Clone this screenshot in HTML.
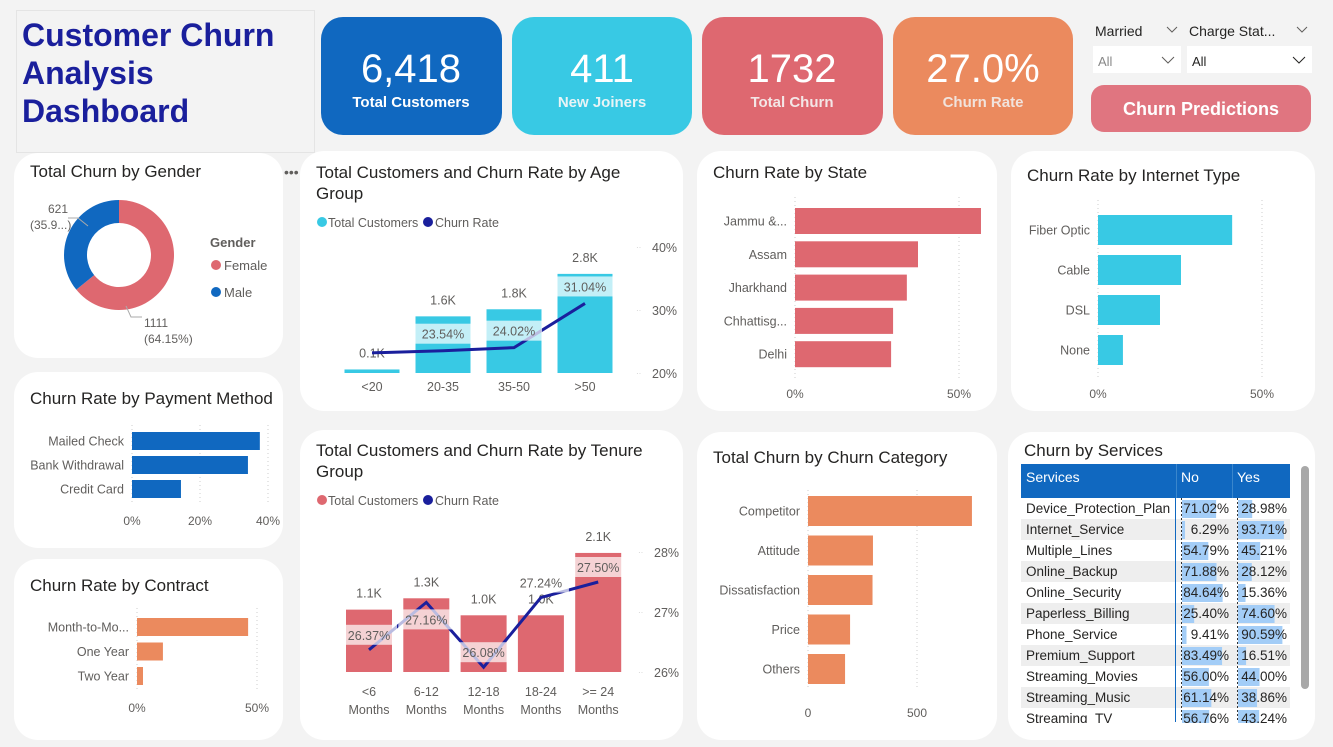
<!DOCTYPE html>
<html><head><meta charset="utf-8"><style>
html,body{margin:0;padding:0;background:#f3f3f3;width:1333px;height:747px;overflow:hidden}
svg{display:block;font-family:"Liberation Sans",sans-serif}
</style></head><body>
<svg id="s" width="1333" height="747" viewBox="0 0 1333 747">
<rect x="0" y="0" width="1333" height="747" fill="#f3f3f3"/>
<g>
<rect x="16.5" y="10.5" width="298" height="142" fill="#f3f3f3" stroke="#e4e4e4"/>
<text x="22" y="46" font-size="32" font-weight="bold" fill="#1a1f9c">Customer Churn</text>
<text x="22" y="84" font-size="32" font-weight="bold" fill="#1a1f9c">Analysis</text>
<text x="22" y="122" font-size="32" font-weight="bold" fill="#1a1f9c">Dashboard</text>
</g>
<g><rect x="321" y="17" width="181" height="118" rx="22" fill="#1068c0"/><text x="411" y="82" font-size="40" fill="#fff" text-anchor="middle">6,418</text><text x="411" y="107" font-size="15" font-weight="bold" fill="#fff" text-anchor="middle">Total Customers</text></g>
<g><rect x="512" y="17" width="180" height="118" rx="22" fill="#38c9e4"/><text x="602" y="82" font-size="40" fill="#fff" text-anchor="middle">411</text><text x="602" y="107" font-size="15" font-weight="bold" fill="#e8f4f6" text-anchor="middle">New Joiners</text></g>
<g><rect x="702" y="17" width="181" height="118" rx="22" fill="#de6870"/><text x="792" y="82" font-size="40" fill="#fff" text-anchor="middle">1732</text><text x="792" y="107" font-size="15" font-weight="bold" fill="#f3e6e6" text-anchor="middle">Total Churn</text></g>
<g><rect x="893" y="17" width="180" height="118" rx="22" fill="#eb8a5e"/><text x="983" y="82" font-size="40" fill="#fff" text-anchor="middle">27.0%</text><text x="983" y="107" font-size="15" font-weight="bold" fill="#f1e3dc" text-anchor="middle">Churn Rate</text></g>
<g>
<text x="1095" y="36" font-size="14" fill="#252423">Married</text>
<path d="M1167 27 l5 5 l5 -5" fill="none" stroke="#605e5c"/>
<rect x="1093" y="46" width="88" height="27" fill="#fff"/>
<text x="1098" y="66" font-size="13" fill="#888">All</text>
<path d="M1162 57 l6 6 l6 -6" fill="none" stroke="#605e5c"/>
</g>
<g>
<text x="1189" y="36" font-size="14" fill="#252423">Charge Stat...</text>
<path d="M1297 27 l5 5 l5 -5" fill="none" stroke="#605e5c"/>
<rect x="1187" y="46" width="125" height="27" fill="#fff"/>
<text x="1192" y="66" font-size="13" fill="#252423">All</text>
<path d="M1293 57 l6 6 l6 -6" fill="none" stroke="#252423"/>
</g>
<g><rect x="1091" y="85" width="220" height="47" rx="13" fill="#e07580"/><text x="1201" y="115" font-size="18" font-weight="bold" fill="#fff" text-anchor="middle">Churn Predictions</text></g>
<g id="cards"></g>
<g id="charts"></g>
</svg>
<script>
// ---- data ----
const genderLabels=["Female","Male"];
const genderValues=[1111,621];
const ageCats=["<20","20-35","35-50",">50"];
const ageCustomers=[0.1,1.6,1.8,2.8];
const ageRate=[23.2,23.54,24.02,31.04];
const ageTicks=["20%","30%","40%"];
const tenureCats=["<6","6-12","12-18","18-24",">= 24"];
const tenureCustomers=[1.1,1.3,1.0,1.0,2.1];
const tenureRate=[26.37,27.16,26.08,27.24,27.50];
const tenureTicks=["26%","27%","28%"];
const stateCats=["Jammu &...","Assam","Jharkhand","Chhattisg...","Delhi"];
const stateRate=[56.7,37.5,34.1,29.9,29.3];
const internetCats=["Fiber Optic","Cable","DSL","None"];
const internetRate=[40.9,25.3,18.9,7.6];
const payCats=["Mailed Check","Bank Withdrawal","Credit Card"];
const payRate=[37.6,34.1,14.4];
const contractCats=["Month-to-Mo...","One Year","Two Year"];
const contractRate=[46.3,10.8,2.5];
const catCats=["Competitor","Attitude","Dissatisfaction","Price","Others"];
const catChurn=[752,298,296,193,170];
const services=["Device_Protection_Plan","Internet_Service","Multiple_Lines","Online_Backup","Online_Security","Paperless_Billing","Phone_Service","Premium_Support","Streaming_Movies","Streaming_Music","Streaming_TV"];
const servNo=[71.02,6.29,54.79,71.88,84.64,25.40,9.41,83.49,56.00,61.14,56.76];
const servYes=[28.98,93.71,45.21,28.12,15.36,74.60,90.59,16.51,44.00,38.86,43.24];

const NS="http://www.w3.org/2000/svg";
const root=document.getElementById('charts');
const cardsG=document.getElementById('cards');
function el(tag,attrs,parent,txt){const e=document.createElementNS(NS,tag);for(const k in attrs)e.setAttribute(k,attrs[k]);if(txt!==undefined)e.textContent=txt;(parent||root).appendChild(e);return e;}
function grp(name){const g=el('g',{},root);return g;}
function card(name,x,y,w,h,off,title,title2){
  const g=el('g',{},cardsG);
  
  
  el('rect',{x:x,y:y,width:w,height:h,rx:24,fill:'#fff'},g);
  const t=el('text',{x:x+16,y:y+off+6,'font-size':17,fill:'#252423'},g,title);
  
  
  if(title2){el('text',{x:x+16,y:y+off+27,'font-size':17,fill:'#252423'},g,title2);}
}
card('gender-card',14,153,269,205,18,'Total Churn by Gender');
card('age-card',300,151,383,260,21,'Total Customers and Churn Rate by Age','Group');
card('state-card',697,151,300,260,21,'Churn Rate by State');
card('internet-card',1011,151,304,260,24,'Churn Rate by Internet Type');
card('payment-card',14,372,269,176,26,'Churn Rate by Payment Method');
card('contract-card',14,559,269,181,26,'Churn Rate by Contract');
card('tenure-card',300,430,383,310,20,'Total Customers and Churn Rate by Tenure','Group');
card('category-card',697,432,300,308,25,'Total Churn by Churn Category');
card('services-card',1008,432,307,308,18,'Churn by Services');
el('text',{x:284,y:177,'font-size':14,fill:'#605e5c'},cardsG,'•••');

// ---- donut ----
(function(){
  const g=grp('gender-donut');
  const cx=119,cy=255,R=55,r=32,total=genderValues.reduce((a,b)=>a+b,0);
  const cols=['#de6870','#1068c0'];let a0=-Math.PI/2;
  genderValues.forEach((v,i)=>{
    const a1=a0+v/total*2*Math.PI,lg=(a1-a0)>Math.PI?1:0;
    const p=`M${cx+R*Math.cos(a0)} ${cy+R*Math.sin(a0)} A${R} ${R} 0 ${lg} 1 ${cx+R*Math.cos(a1)} ${cy+R*Math.sin(a1)} L${cx+r*Math.cos(a1)} ${cy+r*Math.sin(a1)} A${r} ${r} 0 ${lg} 0 ${cx+r*Math.cos(a0)} ${cy+r*Math.sin(a0)}Z`;
    const s=el('path',{d:p,fill:cols[i]},g);
    
    
    a0=a1;
  });
  el('text',{x:48,y:213,'font-size':12,fill:'#605e5c'},g,String(genderValues[1]));
  el('text',{x:30,y:229,'font-size':12,fill:'#605e5c'},g,'('+(genderValues[1]/total*100).toFixed(1).slice(0,4)+'...)');
  el('path',{d:'M68 218 H78 L88 226',fill:'none',stroke:'#aaa'},g);
  el('path',{d:'M126 306 L131 317 H142',fill:'none',stroke:'#aaa'},g);
  el('text',{x:144,y:327,'font-size':12,fill:'#605e5c'},g,String(genderValues[0]));
  el('text',{x:144,y:343,'font-size':12,fill:'#605e5c'},g,'('+(genderValues[0]/total*100).toFixed(2)+'%)');
  const lg=grp('gender-legend');
  el('text',{x:210,y:247,'font-size':13,'font-weight':'bold',fill:'#605e5c'},lg,'Gender');
  genderLabels.forEach((l,i)=>{el('circle',{cx:216,cy:265+27*i,r:5,fill:cols[i]},lg);el('text',{x:224,y:270+27*i,'font-size':13,fill:'#605e5c'},lg,l);});
})();

// ---- combo chart ----
function combo(name,cats,cust,rate,ticks,o){
  const g=grp(name);
  const yb=v=>o.base-v*o.kScale;
  const yr=v=>o.base-(v-o.rMin)*o.rScale;
  const xc=i=>o.x0+i*o.step;
  el('circle',{cx:o.lx,cy:o.ly,r:5,fill:o.col},g);
  el('text',{x:o.lx+6,y:o.ly+5,'font-size':12.5,fill:'#605e5c'},g,'Total Customers');
  el('circle',{cx:o.lx+106,cy:o.ly,r:5,fill:'#1a1f9c'},g);
  el('text',{x:o.lx+113,y:o.ly+5,'font-size':12.5,fill:'#605e5c'},g,'Churn Rate');
  ticks.forEach((t,i)=>{const v=parseFloat(t);const y=yr(v);el('text',{x:o.tx,y:y+5,'font-size':12.5,fill:'#605e5c'},g,t);el('text',{x:o.tx-16,y:y+3,'font-size':8,fill:'#ccc'},g,'··');});
  cats.forEach((c,i)=>{
    const b=el('rect',{x:xc(i)-o.bw/2,y:yb(cust[i]),width:o.bw,height:o.base-yb(cust[i]),fill:o.col},g);
    
    
    el('text',{x:xc(i),y:yb(cust[i])-o.vOff,'font-size':12.5,fill:'#605e5c','text-anchor':'middle'},g,cust[i].toFixed(1)+'K');
    if(o.two){el('text',{x:xc(i),y:o.base+24,'font-size':12.5,fill:'#605e5c','text-anchor':'middle'},g,c);el('text',{x:xc(i),y:o.base+42,'font-size':12.5,fill:'#605e5c','text-anchor':'middle'},g,'Months');}
    else el('text',{x:xc(i),y:o.base+18,'font-size':12.5,fill:'#605e5c','text-anchor':'middle'},g,c);
  });
  const pts=rate.map((v,i)=>xc(i)+','+yr(v)).join(' ');
  const l=el('polyline',{points:pts,fill:'none',stroke:'#1a1f9c','stroke-width':3},g);
  
  
  rate.forEach((v,i)=>{ if(o.skip&&o.skip.includes(i))return;
    const below=o.below&&o.below.includes(i);
    const y=below?yr(v)+o.rOff+2:yr(v)-o.rOff;
    el('rect',{x:xc(i)-28,y:y-10,width:56,height:20,fill:'rgba(255,255,255,0.7)'},g);
    el('text',{x:xc(i),y:y+5,'font-size':12.5,fill:'#605e5c','text-anchor':'middle'},g,v.toFixed(2)+'%');
  });
}
combo('age-chart',ageCats,ageCustomers,ageRate,ageTicks,{base:373,kScale:35.4,rMin:20,rScale:6.3,x0:372,step:71,bw:55,col:'#38c9e4',lx:322,ly:222,tx:652,vOff:12,rOff:17,skip:[0]});
combo('tenure-chart',tenureCats,tenureCustomers,tenureRate,tenureTicks,{base:672,kScale:56.7,rMin:26,rScale:60,x0:369,step:57.3,bw:46,col:'#de6870',lx:322,ly:500,tx:654,vOff:12,rOff:15,two:true,below:[1]});

// ---- horizontal bars ----
function hbar(name,cats,vals,o){
  const g=grp(name);
  const xs=v=>o.x0+v*o.scale;
  o.ticks.forEach(t=>{const x=xs(t);el('line',{x1:x,x2:x,y1:o.gy0,y2:o.gy1,stroke:'#ccc','stroke-dasharray':'1,3'},g);el('text',{x:x,y:o.ay,'font-size':12,fill:'#605e5c','text-anchor':'middle'},g,t+o.suf);});
  cats.forEach((c,i)=>{const y=o.y0+i*o.step;
    const b=el('rect',{x:o.x0,y:y-o.h/2,width:xs(vals[i])-o.x0,height:o.h,fill:o.col},g);
    
    
    el('text',{x:o.x0-8,y:y+4.5,'font-size':12.5,fill:'#605e5c','text-anchor':'end'},g,c);});
}
hbar('state-chart',stateCats,stateRate,{x0:795,scale:3.28,ticks:[0,50],suf:'%',y0:221,step:33.3,h:26,col:'#de6870',gy0:197,gy1:380,ay:398});
hbar('internet-chart',internetCats,internetRate,{x0:1098,scale:3.28,ticks:[0,50],suf:'%',y0:230,step:40,h:30,col:'#38c9e4',gy0:200,gy1:378,ay:398});
hbar('payment-chart',payCats,payRate,{x0:132,scale:3.4,ticks:[0,20,40],suf:'%',y0:441,step:24,h:18,col:'#1068c0',gy0:425,gy1:505,ay:525});
hbar('contract-chart',contractCats,contractRate,{x0:137,scale:2.4,ticks:[0,50],suf:'%',y0:627,step:24.5,h:18,col:'#eb8a5e',gy0:608,gy1:690,ay:712});
hbar('category-chart',catCats,catChurn,{x0:808,scale:0.218,ticks:[0,500],suf:'',y0:511,step:39.5,h:30,col:'#eb8a5e',gy0:490,gy1:690,ay:717});

// ---- services table ----
(function(){
  const g=grp('services-table');
  const cp=el('clipPath',{id:'tc'},g);el('rect',{x:1018,y:460,width:280,height:263},cp);
  const t=el('g',{'clip-path':'url(#tc)'},g);
  el('rect',{x:1021,y:464,width:269,height:34,fill:'#1068c0'},t);
  el('text',{x:1026,y:482,'font-size':14,fill:'#fff'},t,'Services');
  el('text',{x:1181,y:482,'font-size':14,fill:'#fff'},t,'No');
  el('text',{x:1237,y:482,'font-size':14,fill:'#fff'},t,'Yes');
  el('line',{x1:1176.5,x2:1176.5,y1:464,y2:498,stroke:'#3a86cc'},t);
  el('line',{x1:1232.5,x2:1232.5,y1:464,y2:498,stroke:'#3a86cc'},t);
  services.forEach((s,i)=>{const y=498+i*21;
    if(i%2)el('rect',{x:1021,y:y,width:269,height:21,fill:'#eeeeee'},t);
    const r=el('text',{x:1026,y:y+15,'font-size':13.5,fill:'#252423'},t,s);
    
    
    el('rect',{x:1182,y:y+2,width:servNo[i]/100*48,height:18,fill:'#a3cdf7'},t);
    el('rect',{x:1238,y:y+2,width:servYes[i]/100*49,height:18,fill:'#a3cdf7'},t);
    el('text',{x:1229,y:y+15,'font-size':13.5,fill:'#252423','text-anchor':'end'},t,servNo[i].toFixed(2)+'%');
    el('text',{x:1287,y:y+15,'font-size':13.5,fill:'#252423','text-anchor':'end'},t,servYes[i].toFixed(2)+'%');
  });
  el('line',{x1:1175.5,x2:1175.5,y1:498,y2:722,stroke:'#1068c0'},t);
  el('line',{x1:1181.5,x2:1181.5,y1:498,y2:722,stroke:'#333','stroke-dasharray':'2,2'},t);
  el('line',{x1:1237.5,x2:1237.5,y1:498,y2:722,stroke:'#333','stroke-dasharray':'2,2'},t);
  const sb=el('rect',{x:1301,y:466,width:8,height:223,rx:4,fill:'#a8a8a8'},g);
  
  
})();
</script>
</body></html>
